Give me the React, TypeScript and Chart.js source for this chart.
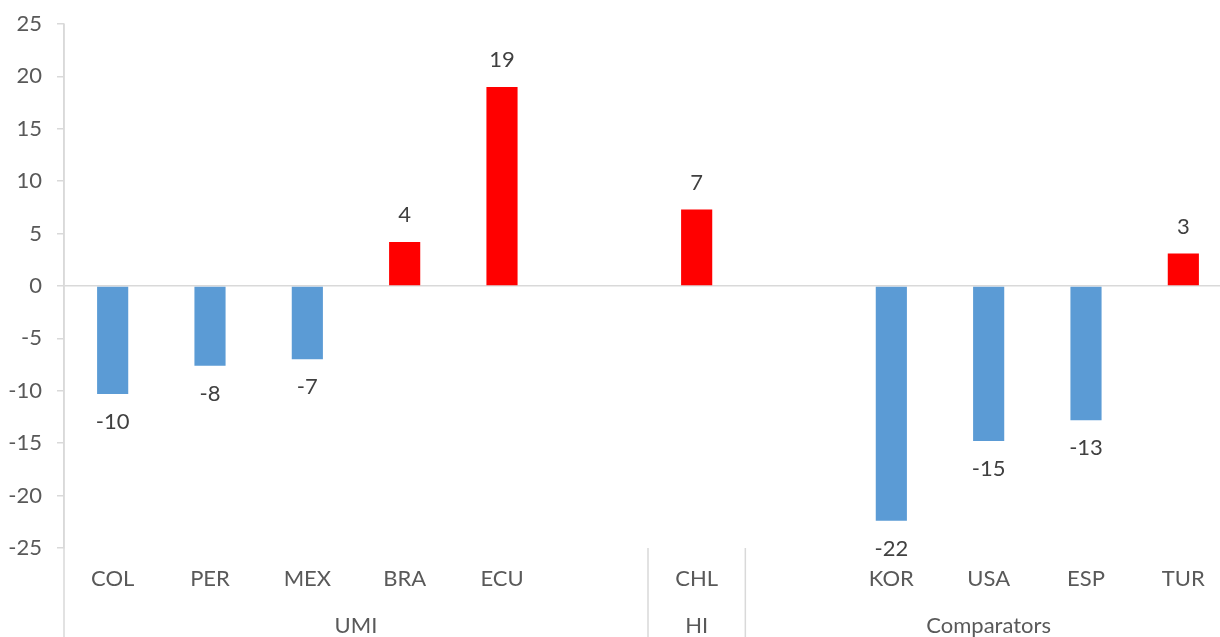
import React, { useEffect, useRef } from "react";
import { Chart, registerables } from "chart.js";

Chart.register(...registerables);

const categories = ["COL", "PER", "MEX", "BRA", "ECU", "", "CHL", "", "KOR", "USA", "ESP", "TUR"];
const values: (number | null)[] = [-10.3, -7.6, -7.0, 4.2, 19.0, null, 7.3, null, -22.4, -14.8, -12.8, 3.1];
const groupNames = ["UMI", "HI", "Comparators"];
const groupSizes = [6, 1, 5];
const yTicks = [-25, -20, -15, -10, -5, 0, 5, 10, 15, 20, 25];

const FONT = "Lato, 'Open Sans', sans-serif";
const FONT_SIZE = 22;
const AXIS_GREY = "#D9D9D9";
const TEXT_GREY = "#595959";

const extrasPlugin = {
  id: "extras",
  afterDatasetsDraw(chart: any) {
    const { ctx, chartArea, scales } = chart;
    const x = scales.x;
    const y = scales.y;
    const H = chart.height;
    ctx.save();
    // data labels
    ctx.font = `${FONT_SIZE}px ${FONT}`;
    ctx.fillStyle = "#404040";
    ctx.textAlign = "center";
    ctx.textBaseline = "middle";
    const meta = chart.getDatasetMeta(0);
    meta.data.forEach((bar: any, i: number) => {
      const v = values[i];
      if (v === null || v === undefined) return;
      const py = y.getPixelForValue(v);
      const ly = v >= 0 ? py - 27 : py + 28;
      ctx.fillText(String(Math.round(v)), bar.x, ly);
    });
    // y axis line extension to bottom
    ctx.strokeStyle = AXIS_GREY;
    ctx.lineWidth = 1.5;
    ctx.beginPath();
    ctx.moveTo(chartArea.left, chartArea.top);
    ctx.lineTo(chartArea.left, H);
    ctx.stroke();
    // group separators and labels
    const slot = (chartArea.right - chartArea.left) / categories.length;
    let start = 0;
    ctx.fillStyle = TEXT_GREY;
    groupSizes.forEach((size, gi) => {
      const left = x.getPixelForValue(start) - slot / 2;
      const right = x.getPixelForValue(start + size - 1) + slot / 2;
      ctx.fillText(groupNames[gi], (left + right) / 2, 626);
      if (gi < groupSizes.length - 1) {
        ctx.beginPath();
        ctx.moveTo(right, chartArea.bottom);
        ctx.lineTo(right, H);
        ctx.stroke();
      }
      start += size;
    });
    ctx.restore();
  },
};

export default function App() {
  const ref = useRef<HTMLCanvasElement | null>(null);
  useEffect(() => {
    if (!ref.current) return;
    const chart = new Chart(ref.current, {
      type: "bar",
      data: {
        labels: categories,
        datasets: [
          {
            data: values as any,
            backgroundColor: values.map((v) => ((v ?? 0) >= 0 ? "#FF0000" : "#5B9BD5")),
            barPercentage: 0.32,
            categoryPercentage: 1,
          },
        ],
      },
      options: {
        animation: false,
        responsive: false,
        maintainAspectRatio: false,
        layout: { padding: { top: 24, right: 8, left: 0, bottom: 0 } },
        plugins: { legend: { display: false }, tooltip: { enabled: false } },
        scales: {
          x: {
            grid: { display: false },
            border: { display: false },
            ticks: {
              color: TEXT_GREY,
              font: { size: FONT_SIZE, family: FONT },
              padding: 10,
              maxRotation: 0,
              autoSkip: false,
            },
            afterFit: (s: any) => {
              s.height = 89;
            },
          },
          y: {
            min: -25,
            max: 25,
            afterBuildTicks: (s: any) => {
              s.ticks = yTicks.map((v) => ({ value: v }));
            },
            grid: {
              color: (c: any) => (c.tick && c.tick.value === 0 ? AXIS_GREY : "rgba(0,0,0,0)"),
              tickColor: AXIS_GREY,
              tickLength: 7,
              lineWidth: 1.5,
            },
            border: { display: true, color: AXIS_GREY, width: 1.5 },
            ticks: {
              color: TEXT_GREY,
              font: { size: FONT_SIZE, family: FONT },
              padding: 15,
            },
            afterFit: (s: any) => {
              s.width = 64;
              s.paddingTop = 0;
              s.paddingBottom = 0;
            },
          },
        },
      },
      plugins: [extrasPlugin],
    });
    return () => chart.destroy();
  }, []);
  return (
    <div style={{ position: "fixed", left: 0, top: 0, width: 1220, height: 637, overflow: "hidden", background: "#fff" }}>
      <canvas ref={ref} width={1240} height={637} style={{ display: "block", width: 1240, height: 637 }} />
    </div>
  );
}
